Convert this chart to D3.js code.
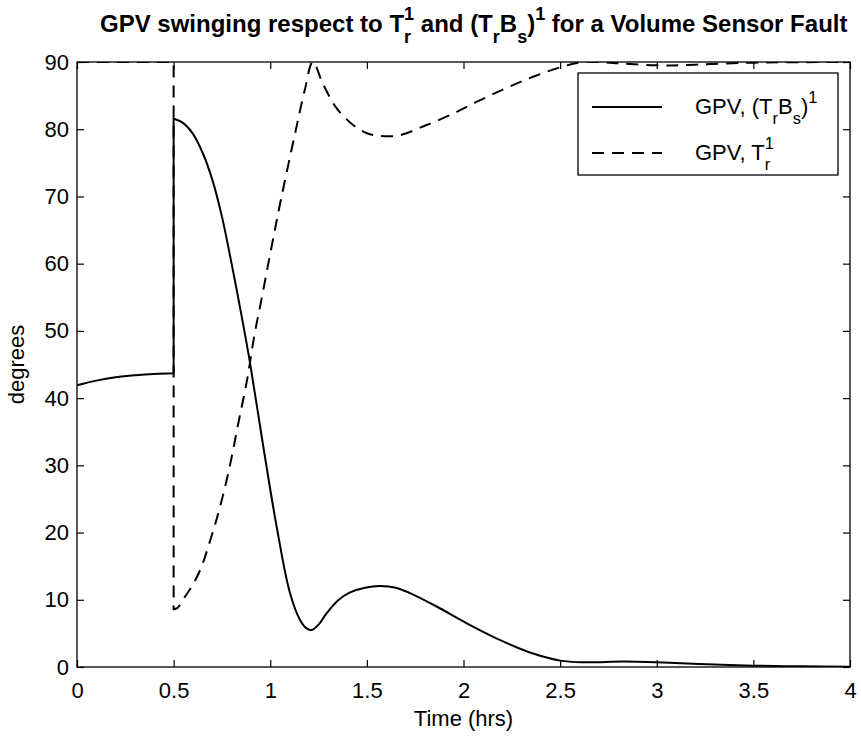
<!DOCTYPE html>
<html>
<head>
<meta charset="utf-8">
<script src="https://cdn.jsdelivr.net/npm/d3@7/dist/d3.min.js"></script>
<style>
  html, body { margin: 0; padding: 0; background: #fff; }
  svg { display: block; }
  text { font-family: "Liberation Sans", Arial, Helvetica, sans-serif; fill: #000; white-space: pre; }
</style>
</head>
<body>
<svg id="chart" width="861" height="736"></svg>
<script>
// Time axis (hours) and GPV angle (degrees) for the two residual structures.
const solidTime = [0, 0.1, 0.2, 0.3, 0.4, 0.5, 0.5, 0.55, 0.6, 0.65, 0.7, 0.75, 0.8, 0.85, 0.895, 0.964, 1.033, 1.102, 1.154, 1.19, 1.214, 1.25, 1.292, 1.35, 1.413, 1.49, 1.568, 1.65, 1.723, 1.861, 2.017, 2.19, 2.36, 2.5, 2.62, 2.83, 3.0, 3.22, 3.5, 3.75, 4.0];
const solidGPV  = [41.9, 42.6, 43.1, 43.4, 43.6, 43.7, 81.6, 80.9, 79.3, 76.5, 72.5, 67.0, 60.0, 52.5, 45.3, 32.8, 20.9, 11.0, 7.0, 5.7, 5.5, 6.3, 8.0, 9.9, 11.1, 11.8, 12.05, 11.8, 11.0, 9.0, 6.5, 4.0, 2.0, 0.95, 0.7, 0.8, 0.7, 0.45, 0.2, 0.1, 0.05];

const dashTime = [0, 0.5, 0.5, 0.52, 0.56, 0.6, 0.64, 0.69, 0.74, 0.79, 0.835, 0.88, 0.92, 0.95, 1.0, 1.055, 1.125, 1.18, 1.22, 1.275, 1.344, 1.43, 1.5, 1.57, 1.67, 1.79, 1.93, 2.07, 2.22, 2.36, 2.5, 2.62, 2.8, 3.0, 3.2, 3.5, 4.0];
const dashGPV  = [90, 90, 8.6, 8.8, 10.5, 12.3, 14.6, 18.9, 23.8, 29.8, 36.3, 42.7, 49.7, 54, 61.5, 69.5, 78.9, 86, 90, 86.6, 83.1, 80.6, 79.4, 79.0, 79.1, 80.4, 82.1, 84.1, 86.1, 87.8, 89.2, 90, 89.8, 89.5, 89.6, 89.9, 90];

const xTicks = [0, 0.5, 1, 1.5, 2, 2.5, 3, 3.5, 4];
const yTicks = [0, 10, 20, 30, 40, 50, 60, 70, 80, 90];

const svg = d3.select("#chart");
const pL = 77, pR = 850, pT = 62, pB = 667;
const W = pR - pL, H = pB - pT;
const fs = 22;

const x = d3.scaleLinear().domain([0, 4]).range([pL, pR]);
const y = d3.scaleLinear().domain([0, 90]).range([pB, pT]);

svg.append("defs").append("clipPath").attr("id", "plotClip")
  .append("rect").attr("x", pL).attr("y", pT).attr("width", W).attr("height", H);

// Axes: labelled bottom/left, plain inward ticks on top/right
const tickLen = 7;
const gx = svg.append("g").attr("transform", `translate(0,${pB})`)
  .call(d3.axisBottom(x).tickValues(xTicks).tickFormat(d3.format("")).tickSizeInner(-tickLen).tickSizeOuter(0).tickPadding(15));
const gy = svg.append("g").attr("transform", `translate(${pL},0)`)
  .call(d3.axisLeft(y).tickValues(yTicks).tickFormat(d3.format("")).tickSizeInner(-tickLen).tickSizeOuter(0).tickPadding(8));
const gxt = svg.append("g").attr("transform", `translate(0,${pT})`)
  .call(d3.axisTop(x).tickValues(xTicks).tickFormat("").tickSizeInner(-tickLen).tickSizeOuter(0));
const gyr = svg.append("g").attr("transform", `translate(${pR},0)`)
  .call(d3.axisRight(y).tickValues(yTicks).tickFormat("").tickSizeInner(-tickLen).tickSizeOuter(0));

[gx, gy, gxt, gyr].forEach(g => {
  g.select(".domain").remove();
  g.selectAll(".tick line").attr("stroke", "#000").attr("stroke-width", 1.2);
  g.selectAll(".tick text").attr("font-size", fs).attr("font-family", "Liberation Sans, Arial, sans-serif").attr("fill", "#000");
});
gx.selectAll(".tick text").attr("dy", "0.71em");

svg.append("rect").attr("x", pL).attr("y", pT).attr("width", W).attr("height", H)
  .attr("fill", "none").attr("stroke", "#000").attr("stroke-width", 1.3);

// Curves: smooth within each run, straight vertical step where the time repeats
const smooth = d3.line().x(d => x(d[0])).y(d => y(d[1])).curve(d3.curveCatmullRom.alpha(0.5));
function stepPath(ts, vs) {
  const pts = d3.zip(ts, vs);
  const runs = [[pts[0]]];
  for (let i = 1; i < pts.length; i++) {
    if (pts[i][0] === pts[i - 1][0]) runs.push([pts[i]]);
    else runs[runs.length - 1].push(pts[i]);
  }
  return runs.map((r, i) => {
    const d = r.length > 1 ? smooth(r) : `M${x(r[0][0])},${y(r[0][1])}`;
    return i === 0 ? d : "L" + d.slice(1);
  }).join("");
}

const plot = svg.append("g").attr("clip-path", "url(#plotClip)");

plot.append("path").attr("d", stepPath(dashTime, dashGPV))
  .attr("fill", "none").attr("stroke", "#000")
  .attr("stroke-width", 2).attr("stroke-dasharray", "12,8");

plot.append("path").attr("d", stepPath(solidTime, solidGPV))
  .attr("fill", "none").attr("stroke", "#000").attr("stroke-width", 2);

// TeX-like rich text: baseline shifts are carried into the next tspan's dy
function rich(sel, parts, size) {
  const ss = size * 0.75;
  const supY = -0.5 * size, subY = 0.45 * size;
  let shift = 0, extraDx = 0;
  const put = (txt, fsz, target, dx) => {
    const t = sel.append("tspan").attr("font-size", fsz).attr("dy", target - shift);
    if (dx) t.attr("dx", dx);
    t.text(txt);
    shift = target;
  };
  parts.forEach(p => {
    if (p.t !== undefined) {
      put(p.t, size, 0, extraDx); extraDx = 0;
    } else if (p.sup !== undefined && p.sub !== undefined) {
      // stacked super/subscript sharing one horizontal slot
      put(p.sup, ss, supY, extraDx);
      put(p.sub, ss, subY, -0.556 * ss);
      extraDx = 0.17 * ss;
    } else if (p.sup !== undefined) {
      put(p.sup, ss, supY, extraDx); extraDx = 0;
    } else if (p.sub !== undefined) {
      put(p.sub, ss, subY, extraDx); extraDx = 0;
    }
  });
}

// Title
const title = svg.append("text").attr("x", 100).attr("y", 32)
  .attr("font-weight", "bold").attr("font-size", 24);
rich(title, [
  {t: "GPV swinging respect to T"}, {sup: "1", sub: "r"},
  {t: " and (T"}, {sub: "r"}, {t: "B"}, {sub: "s"}, {t: ")"}, {sup: "1"},
  {t: " for a Volume Sensor Fault"}
], 24);

// Axis labels
svg.append("text").attr("x", (pL + pR) / 2).attr("y", 726)
  .attr("text-anchor", "middle").attr("font-size", fs).text("Time (hrs)");
svg.append("text").attr("transform", `translate(24,${(pT + pB) / 2}) rotate(-90)`)
  .attr("text-anchor", "middle").attr("font-size", fs).text("degrees");

// Legend
const lg = svg.append("g");
lg.append("rect").attr("x", 578).attr("y", 73).attr("width", 260).attr("height", 102)
  .attr("fill", "#fff").attr("stroke", "#000").attr("stroke-width", 1.3);
lg.append("line").attr("x1", 592).attr("x2", 662).attr("y1", 107).attr("y2", 107)
  .attr("stroke", "#000").attr("stroke-width", 2);
lg.append("line").attr("x1", 592).attr("x2", 662).attr("y1", 153).attr("y2", 153)
  .attr("stroke", "#000").attr("stroke-width", 2).attr("stroke-dasharray", "12,8");
const l1 = lg.append("text").attr("x", 695).attr("y", 114);
rich(l1, [{t: "GPV, (T"}, {sub: "r"}, {t: "B"}, {sub: "s"}, {t: ")"}, {sup: "1"}], fs);
const l2 = lg.append("text").attr("x", 695).attr("y", 160);
rich(l2, [{t: "GPV, T"}, {sup: "1", sub: "r"}], fs);
</script>
</body>
</html>
